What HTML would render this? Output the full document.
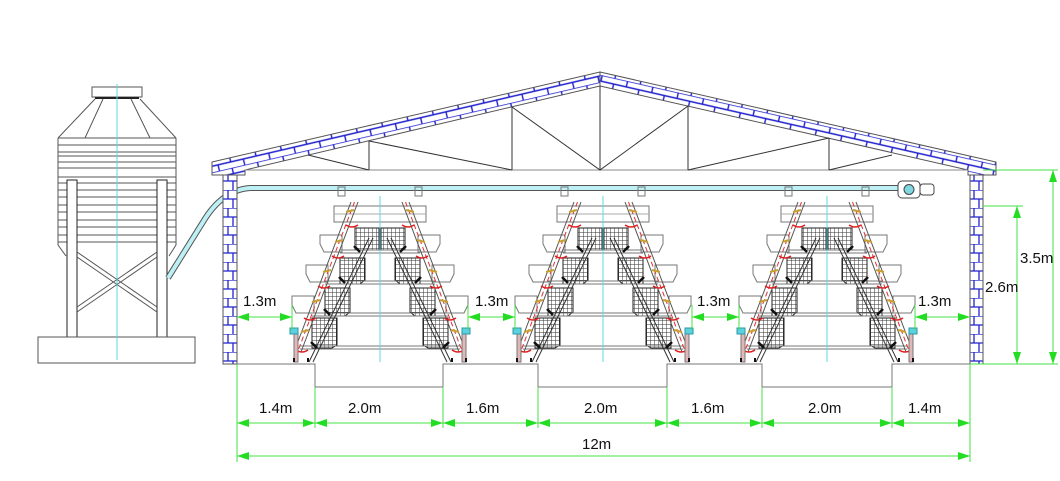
<!DOCTYPE html>
<html><head><meta charset="utf-8"><style>
html,body{margin:0;padding:0;background:#fff;}
svg{display:block;}
text{font-family:"Liberation Sans",sans-serif;font-size:15px;fill:#111;}
</style></head><body>
<svg width="1060" height="481" viewBox="0 0 1060 481" xmlns="http://www.w3.org/2000/svg">
<defs>
<marker id="ar" viewBox="0 0 12 8" refX="12" refY="4" markerWidth="12" markerHeight="8" markerUnits="userSpaceOnUse" orient="auto-start-reverse"><path d="M0,0 L12,4 L0,8 z" fill="#22dd22"/></marker>
<pattern id="wb" width="15" height="18" patternUnits="userSpaceOnUse" x="223" y="172">
<rect width="15" height="18" fill="#fff"/>
<path d="M0,0H15M0,9H15M5,0V9M10,9V18" stroke="#2222cc" stroke-width="1.3"/>
</pattern>
<pattern id="wb2" width="13" height="18" patternUnits="userSpaceOnUse" x="970" y="172">
<rect width="13" height="18" fill="#fff"/>
<path d="M0,0H13M0,9H13M4,0V9M9,9V18" stroke="#2222cc" stroke-width="1.3"/>
</pattern>
<pattern id="rb" width="26" height="12" patternUnits="userSpaceOnUse" patternTransform="rotate(-13.1)">
<rect width="26" height="12" fill="#fff"/>
<path d="M0,0H26M0,6H26M6,0V6M19,6V12" stroke="#2020cc" stroke-width="1.4"/>
</pattern>
<pattern id="rb2" width="26" height="12" patternUnits="userSpaceOnUse" patternTransform="rotate(12.8)">
<rect width="26" height="12" fill="#fff"/>
<path d="M0,0H26M0,6H26M6,0V6M19,6V12" stroke="#2020cc" stroke-width="1.4"/>
</pattern>
<pattern id="mesh" width="4" height="4" patternUnits="userSpaceOnUse">
<rect width="4" height="4" fill="#fff"/>
<path d="M0,0H4M0,0V4" stroke="#333" stroke-width="1"/>
</pattern>
<g id="half" fill="none" stroke-width="1">
<rect x="-46" y="206" width="46" height="16" stroke="#777"/>
<line x1="-46" y1="214" x2="0" y2="214" stroke="#aaa"/>
<path d="M-60,235 H-38 V252 H-56 L-60,244 Z" stroke="#777"/>
<path d="M-74,265 H-52 V282 H-70 L-74,274 Z" stroke="#777"/>
<path d="M-88,296 H-66 V313 H-84 L-88,305 Z" stroke="#777"/>
<path d="M-25,228 H-1 V250 H-25 Z" fill="url(#mesh)" stroke="#222"/>
<path d="M-40,258 H-15 V280 L-20,284 H-40 Z" fill="url(#mesh)" stroke="#222"/>
<path d="M-55,288 H-30 V312 L-35,316 H-55 Z" fill="url(#mesh)" stroke="#222"/>
<path d="M-68,318 H-43 V345 L-48,348 H-68 Z" fill="url(#mesh)" stroke="#222"/>
<path d="M-40,250H0M-40,253H0M-55,281H0M-55,284H0M-68,313H0M-68,316H0M-80,346H0M-80,349H0" stroke="#777"/>
<path d="M-29,202 L-86,352 M-22,202 L-79,352" stroke="#555"/>
<path d="M-25.5,202 L-82.5,352" stroke="#e03030" stroke-dasharray="5,3"/>
<path d="M-26,210 L-34,212 M-37,240 L-45,242 M-49,270 L-57,272 M-60,300 L-68,302 M-71,330 L-79,332" stroke="#c9a030" stroke-width="2"/>
<path d="M-11,238 L-71,362 M-7,238 L-67,362" stroke="#333"/>
<path d="M-20,252 L-26,246 M-35,283 L-41,277 M-50,315 L-56,309 M-63,348 L-69,342" stroke="#111" stroke-width="2.5"/>
<path d="M-34,225 q6,4 12,0 M-48,256 q6,4 12,0 M-62,286 q6,4 12,0 M-76,318 q6,4 12,0 M-84,350 q6,4 12,0" stroke="#e02020" stroke-width="1.5"/>
<rect x="-86" y="334" width="4" height="28" fill="#e0b8b8" stroke="#777"/>
<path d="M-90,328 h8 v6 h-8 z" fill="#5fd0e0" stroke="#2a9aa8"/>
<path d="M-86,362 v-4 M-72,362 v-4" stroke="#111" stroke-width="2"/>
<rect x="-42" y="187" width="7" height="9" stroke="#777"/>
</g>
<g id="unit">
<use href="#half"/>
<use href="#half" transform="scale(-1,1)"/>
<line x1="0" y1="196" x2="0" y2="362" stroke="#5fd8e0" stroke-width="1"/>
</g>
</defs>

<g fill="none" stroke="#555" stroke-width="1">
<rect x="92" y="87" width="50" height="10" fill="#fff"/>
<line x1="95" y1="98" x2="139" y2="98" stroke="#222" stroke-width="2"/>
<path d="M58,138 L95,99 M176,138 L140,99 M85,138 L103,99 M150,138 L131,99"/>
<path d="M58,138 V245 L66,256 M176,138 V245 L169,256"/>
<path d="M58,138H176M58,145H176M58,152H176M58,156H176M58,162H176M58,168H176M58,177H176M58,183H176M58,190H176M58,197H176M58,205H176M58,212H176M58,220H176M58,227H176M58,235H176M58,242H176"/>
<rect x="67" y="180" width="10" height="157" fill="#fff" stroke="#222"/>
<rect x="157" y="180" width="10" height="157" fill="#fff" stroke="#222"/>
<path d="M77,252 L157,307 M77,257 L157,312 M157,252 L77,307 M157,257 L77,312"/>
<rect x="38" y="337" width="157" height="26" fill="#fff"/>
</g>
<line x1="117" y1="84" x2="117" y2="360" stroke="#5fd8e0"/>

<path d="M168,278 L203,222 Q222,190 250,188 L900,188" fill="none" stroke="#555" stroke-width="6"/>
<path d="M168,278 L203,222 Q222,190 250,188 L900,188" fill="none" stroke="#bdf0f4" stroke-width="4"/>

<rect x="223" y="172" width="14" height="192" fill="url(#wb)" stroke="#555"/>
<rect x="970" y="172" width="13" height="192" fill="url(#wb2)" stroke="#555"/>

<polygon points="212,162 600,72 600,86 245,170 245,175 212,175" fill="url(#rb)" stroke="#555"/>
<polygon points="600,72 996,162 996,175 968,175 968,170 600,86" fill="url(#rb2)" stroke="#555"/>
<g stroke="#333" stroke-width="1" fill="none">
<line x1="245" y1="170" x2="968" y2="170" stroke="#888"/>
<path d="M369,141V170M512,107V170M600,86V170M688,106V170M829,138V170"/>
<path d="M308,155L369,170M369,141L512,170M512,107L600,170L688,106M829,138L688,170M892,155L829,170"/>
</g>

<g fill="#fff" stroke="#444">
<rect x="898" y="181" width="22" height="17" rx="4"/>
<rect x="920" y="184" width="14" height="11" rx="3"/>
<circle cx="909" cy="189.5" r="5" fill="#7fd8e0"/>
</g>

<use href="#unit" transform="translate(380,0)"/>
<use href="#unit" transform="translate(603,0)"/>
<use href="#unit" transform="translate(827,0)"/>

<path d="M237,364 H315 V387 H443 V364 H538 V387 H667 V364 H762 V387 H892 V364 H970" fill="none" stroke="#777"/>

<g stroke="#44e044" stroke-width="1" fill="none">
<path d="M237,364V462M315,387V428M443,387V428M538,387V428M667,387V428M762,387V428M892,387V428M970,364V462"/>
<path d="M983,170H1058M983,206H1023M970,364H1058"/>
<line x1="1053" y1="170" x2="1053" y2="364" marker-start="url(#ar)" marker-end="url(#ar)"/>
<line x1="1017" y1="206" x2="1017" y2="364" marker-start="url(#ar)" marker-end="url(#ar)"/>
<line x1="237" y1="423" x2="315" y2="423" marker-start="url(#ar)" marker-end="url(#ar)"/>
<line x1="315" y1="423" x2="443" y2="423" marker-start="url(#ar)" marker-end="url(#ar)"/>
<line x1="443" y1="423" x2="538" y2="423" marker-start="url(#ar)" marker-end="url(#ar)"/>
<line x1="538" y1="423" x2="667" y2="423" marker-start="url(#ar)" marker-end="url(#ar)"/>
<line x1="667" y1="423" x2="762" y2="423" marker-start="url(#ar)" marker-end="url(#ar)"/>
<line x1="762" y1="423" x2="892" y2="423" marker-start="url(#ar)" marker-end="url(#ar)"/>
<line x1="892" y1="423" x2="970" y2="423" marker-start="url(#ar)" marker-end="url(#ar)"/>
<line x1="237" y1="456" x2="970" y2="456" marker-start="url(#ar)" marker-end="url(#ar)"/>
<line x1="237" y1="317" x2="292" y2="317" marker-start="url(#ar)" marker-end="url(#ar)"/>
<line x1="468" y1="317" x2="515" y2="317" marker-start="url(#ar)" marker-end="url(#ar)"/>
<line x1="692" y1="317" x2="739" y2="317" marker-start="url(#ar)" marker-end="url(#ar)"/>
<line x1="915" y1="317" x2="970" y2="317" marker-start="url(#ar)" marker-end="url(#ar)"/>
<path d="M292,305V330M468,305V330M515,305V330M692,305V330M739,305V330M915,305V330"/>
</g>
<g>
<text x="243" y="306">1.3m</text>
<text x="475" y="306">1.3m</text>
<text x="697" y="306">1.3m</text>
<text x="918" y="306">1.3m</text>
<text x="985" y="292">2.6m</text>
<text x="1020" y="263">3.5m</text>
<text x="259" y="413">1.4m</text>
<text x="348" y="413">2.0m</text>
<text x="466" y="413">1.6m</text>
<text x="584" y="413">2.0m</text>
<text x="691" y="413">1.6m</text>
<text x="808" y="413">2.0m</text>
<text x="908" y="413">1.4m</text>
<text x="582" y="449">12m</text>
</g>
</svg>
</body></html>
